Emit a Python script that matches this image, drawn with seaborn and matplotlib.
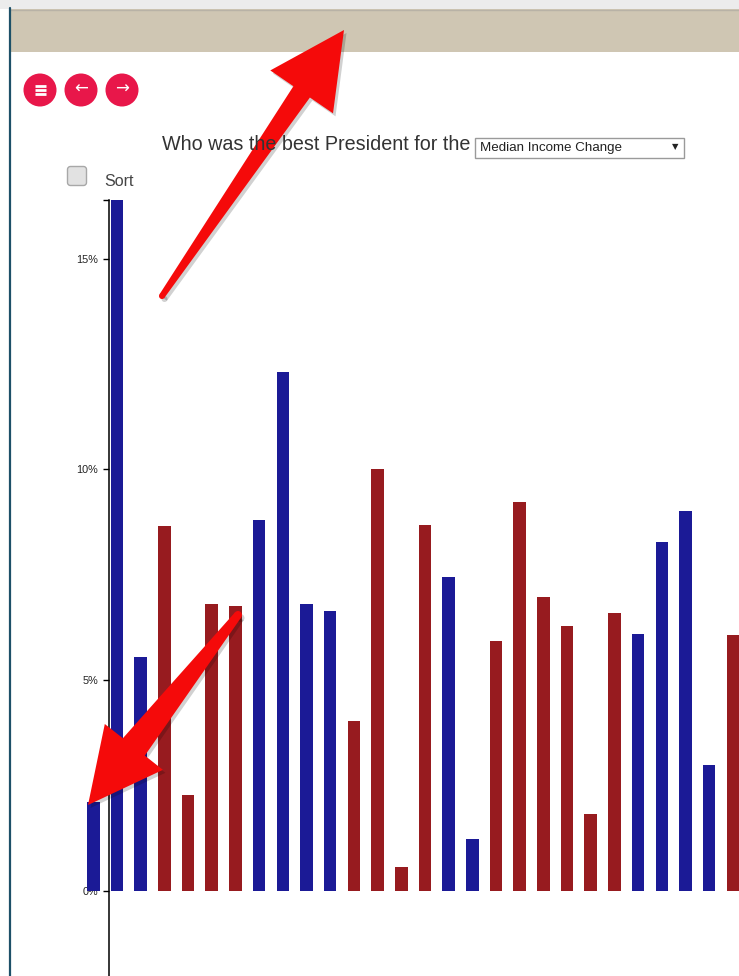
import numpy as np
import pandas as pd
import seaborn as sns
import matplotlib.pyplot as plt
from matplotlib.patches import Polygon, Circle, Rectangle, FancyBboxPatch

# -----------------------------
# 1. Data
# -----------------------------
terms = [f"T{i + 1}" for i in range(28)]
party = ["D", "D", "D", "R", "R", "R", "R", "D", "D", "D", "D", "R", "R", "R",
         "R", "D", "D", "R", "R", "R", "R", "R", "R", "D", "D", "D", "D", "R"]
income_change = [2.1, 16.4, 5.55, 8.66, 2.28, 6.81, 6.76, 8.8, 12.31, 6.81, 6.64, 4.03, 10.01, 0.57,
                 8.68, 7.45, 1.23, 5.93, 9.22, 6.98, 6.29, 1.83, 6.6, 6.1, 8.28, 9.02, 2.99, 6.07]
y_ticks = [0, 5, 10, 15]
y_tick_labels = ["0%", "5%", "10%", "15%"]

df = pd.DataFrame({"term": terms, "party": party, "change": income_change})
colores = {"D": "#1b1a96", "R": "#971b1f"}

sns.set_style("white")
plt.rcParams["font.family"] = ["Liberation Sans", "DejaVu Sans"]

W, H = 739, 976
fig = plt.figure(figsize=(W / 100, H / 100), dpi=100)
fig.patch.set_facecolor("white")

# -----------------------------
# 2. Bar chart
# -----------------------------
ax = fig.add_axes([60 / W, 0, 1 - 60 / W, 1 - 200 / H])
sns.barplot(data=df, x="term", y="change", hue="party", order=terms,
            palette=colores, saturation=1, dodge=False, width=0.53, errorbar=None,
            linewidth=0, legend=False, ax=ax)
ax.set_xlim(-1.406, 27.26)
ax.set_ylim(-2.017, 16.39)
ax.set_facecolor("none")
for s in ["top", "right", "bottom"]:
    ax.spines[s].set_visible(False)
ax.spines["left"].set_position(("data", 0.65))
ax.spines["left"].set_color("black")
ax.spines["left"].set_linewidth(1.1)
ax.set_xticks([])
ax.set_yticks(y_ticks)
ax.set_yticklabels(y_tick_labels, fontsize=7.8, color="#222222")
ax.set_yticks([16.39], minor=True)
ax.tick_params(axis="y", which="both", length=4.5, width=1, color="black",
               pad=3, left=True)
ax.set_xlabel("")
ax.set_ylabel("")

# -----------------------------
# 3. Page elements (pixel overlay)
# -----------------------------
ov = fig.add_axes([0, 0, 1, 1], zorder=5)
ov.set_xlim(0, W)
ov.set_ylim(H, 0)
ov.axis("off")
ov.set_facecolor("none")

ov.add_patch(Rectangle((0, 0), W, 9, color="#ececec", lw=0))
ov.add_patch(Rectangle((10, 9), W - 10, 43, color="#cfc6b3", lw=0))
ov.plot([10, W], [10, 10], color="#b8b2a6", lw=1)
ov.plot([9.5, 9.5], [8, H], color="#1d5068", lw=1.6)

# buttons
for cx in [40, 81, 122]:
    ov.add_patch(Circle((cx, 90), 16.5, color="#e8174a", lw=0))
for yy in [86, 90, 94]:
    ov.plot([34.5, 45.5], [yy, yy], color="white", lw=2, solid_capstyle="butt")
ov.text(81, 89, "←", color="white", fontsize=12, ha="center", va="center", family="DejaVu Sans")
ov.text(122, 89, "→", color="white", fontsize=12, ha="center", va="center", family="DejaVu Sans")

# title + dropdown
ov.text(162, 145, "Who was the best President for the", fontsize=14.2, color="#333333",
        ha="left", va="center")
ov.add_patch(Rectangle((474.5, 137.5), 209, 20, facecolor="white", edgecolor="#9a9a9a", lw=1))
ov.text(480, 148, "Median Income Change", fontsize=9.6, color="#222222", ha="left", va="center")
ov.text(675, 146.5, "▼", fontsize=6, color="#222222", ha="center", va="center", family="DejaVu Sans")

# sort checkbox
ov.add_patch(FancyBboxPatch((67.5, 166.5), 19, 19, boxstyle="round,pad=0,rounding_size=3",
                            facecolor="#e2e2e2", edgecolor="#a8a8a8", lw=1))
ov.text(104, 181, "Sort", fontsize=11.5, color="#444444", ha="left", va="center")


# -----------------------------
# 4. Red arrows
# -----------------------------
def flecha(tail, tip, w_tail, w_neck, w_head, head_len):
    tail = np.array(tail, float)
    tip = np.array(tip, float)
    u = (tip - tail) / np.linalg.norm(tip - tail)
    p = np.array([-u[1], u[0]])
    base = tip - head_len * u
    pts = [tail + w_tail * p, base + w_neck * p, base + w_head * p, tip,
           base - w_head * p, base - w_neck * p, tail - w_tail * p]
    return np.array(pts)


for tail, tip, wt, wn, wh, hl in [((162, 296), (344, 30), 3, 10, 38, 75),
                                  ((238, 615), (88, 805), 4, 14, 37, 74)]:
    pts = flecha(tail, tip, wt, wn, wh, hl)
    ov.add_patch(Polygon(pts + [2.5, 3], closed=True, color="#000000", alpha=0.18, lw=0))
    ov.add_patch(Circle(np.array(tail) + [2.5, 3], wt, color="#000000", alpha=0.18, lw=0))
    ov.add_patch(Polygon(pts, closed=True, color="#f50a0a", lw=0))
    ov.add_patch(Circle(tail, wt, color="#f50a0a", lw=0))

plt.savefig("out.png", dpi=100)
